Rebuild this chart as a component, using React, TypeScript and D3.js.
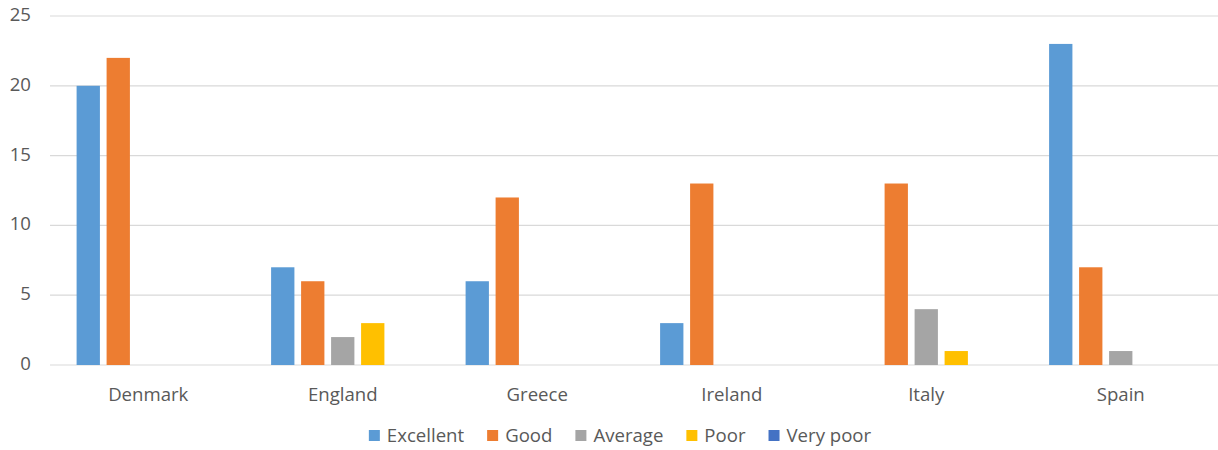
import React, { useEffect, useRef } from "react";
import * as d3 from "d3";

const countries = ["Denmark", "England", "Greece", "Ireland", "Italy", "Spain"];
const ratings = ["Excellent", "Good", "Average", "Poor", "Very poor"];
const excellent = [20, 7, 6, 3, 0, 23];
const good = [22, 6, 12, 13, 13, 7];
const average = [0, 2, 0, 0, 4, 1];
const poor = [0, 3, 0, 0, 1, 0];
const veryPoor = [0, 0, 0, 0, 0, 0];
const yTicks = [0, 5, 10, 15, 20, 25];
const colors = ["#5B9BD5", "#ED7D31", "#A5A5A5", "#FFC000", "#4472C4"];

const seriesValues = [excellent, good, average, poor, veryPoor];

const W = 1218;
const H = 450;
const FONT = "'Open Sans', 'Noto Sans', sans-serif";
const FS = 18.6;

export default function App() {
  const ref = useRef<SVGSVGElement | null>(null);

  useEffect(() => {
    const svg = d3.select(ref.current);
    svg.selectAll("*").remove();

    const left = 51;
    const right = 1218;
    const x0 = d3.scaleBand<string>().domain(countries).range([left, right]).padding(0);
    const y = d3.scaleLinear().domain([0, 25]).range([365, 16]);

    const bw = x0.bandwidth();
    const groupSpan = 143.3;
    const x1 = d3
      .scaleBand<string>()
      .domain(ratings)
      .range([(bw - groupSpan) / 2, (bw + groupSpan) / 2])
      .paddingInner(0.223)
      .paddingOuter(0);

    // gridlines
    svg
      .append("g")
      .selectAll("line")
      .data(yTicks)
      .join("line")
      .attr("x1", left - 1)
      .attr("x2", right)
      .attr("y1", (d) => y(d))
      .attr("y2", (d) => y(d))
      .attr("stroke", "#D9D9D9")
      .attr("stroke-width", 1.2);

    // y tick labels
    svg
      .append("g")
      .selectAll("text")
      .data(yTicks)
      .join("text")
      .attr("x", 31)
      .attr("y", (d) => y(d))
      .attr("text-anchor", "end")
      .attr("dominant-baseline", "middle")
      .attr("font-family", FONT)
      .attr("font-size", FS)
      .attr("fill", "#595959")
      .text((d) => String(d));

    // bars
    const groups = svg
      .append("g")
      .selectAll("g")
      .data(countries)
      .join("g")
      .attr("transform", (c) => `translate(${x0(c)},0)`);

    groups
      .selectAll("rect")
      .data((c) =>
        ratings.map((r, si) => ({ r, v: seriesValues[si][countries.indexOf(c)], si }))
      )
      .join("rect")
      .attr("x", (d) => x1(d.r) as number)
      .attr("width", x1.bandwidth())
      .attr("y", (d) => y(d.v))
      .attr("height", (d) => y(0) - y(d.v))
      .attr("fill", (d) => colors[d.si]);

    // category labels
    svg
      .append("g")
      .selectAll("text")
      .data(countries)
      .join("text")
      .attr("x", (c) => (x0(c) as number) + bw / 2)
      .attr("y", 401)
      .attr("text-anchor", "middle")
      .attr("font-family", FONT)
      .attr("font-size", FS)
      .attr("fill", "#595959")
      .text((c) => c);

    // legend
    const legend = svg.append("g");
    const sq = 11;
    const gapSqText = 7;
    const gapItems = 23;
    let cx = 0;
    ratings.forEach((r, i) => {
      const item = legend.append("g").attr("transform", `translate(${cx},0)`);
      item
        .append("rect")
        .attr("x", 0)
        .attr("y", 430)
        .attr("width", sq)
        .attr("height", sq)
        .attr("fill", colors[i]);
      const t = item
        .append("text")
        .attr("x", sq + gapSqText)
        .attr("y", 442)
        .attr("font-family", FONT)
        .attr("font-size", FS)
        .attr("fill", "#595959")
        .text(r);
      const tw = (t.node() as SVGTextElement).getComputedTextLength();
      cx += sq + gapSqText + tw + gapItems;
    });
    const total = cx - gapItems;
    legend.attr("transform", `translate(${620 - total / 2},0)`);
  }, []);

  return (
    <svg
      ref={ref}
      width={W}
      height={H}
      style={{ position: "absolute", left: 0, top: 0, background: "#fff" }}
    />
  );
}
